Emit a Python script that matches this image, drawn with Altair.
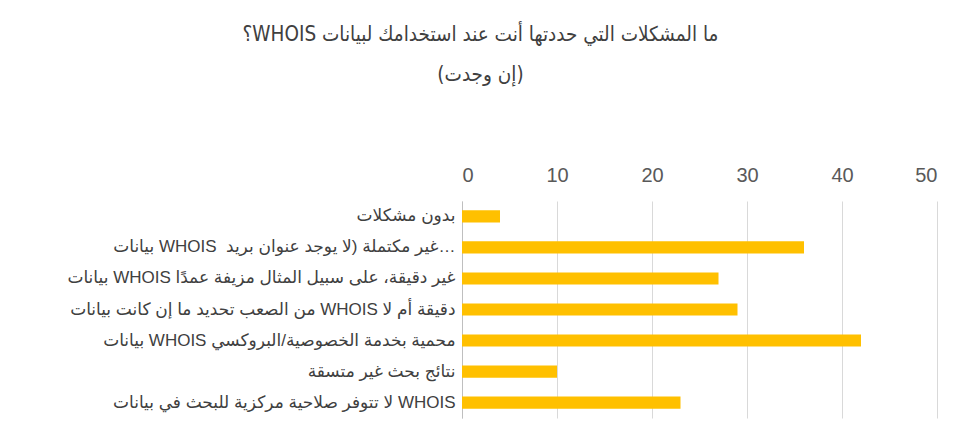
import altair as alt
import pandas as pd

problems = [
    "بدون مشكلات",
    "بيانات WHOIS \u00a0غير مكتملة (لا يوجد عنوان بريد…",
    "بيانات WHOIS غير دقيقة، على سبيل المثال مزيفة عمدًا",
    "من الصعب تحديد ما إن كانت بيانات WHOIS دقيقة أم لا",
    "بيانات WHOIS محمية بخدمة الخصوصية/البروكسي",
    "نتائج بحث غير متسقة",
    "لا تتوفر صلاحية مركزية للبحث في بيانات WHOIS",
]
counts = [4, 36, 27, 29, 42, 10, 23]
tick_values = [0, 10, 20, 30, 40, 50]
title_lines = [
    "\u202bما المشكلات التي حددتها أنت عند استخدامك لبيانات WHOIS؟\u202c",
    "\u202b(إن وجدت)\u202c",
]

df = pd.DataFrame({"problem": problems, "count": counts})

label_font = "Liberation Sans, Arial, DejaVu Sans, sans-serif"
title_font = "DejaVu Sans Condensed, DejaVu Sans, sans-serif"

chart = (
    alt.Chart(df)
    .mark_bar(color="#FFC000")
    .encode(
        x=alt.X(
            "count:Q",
            scale=alt.Scale(domain=[0, 50], nice=False),
            axis=alt.Axis(
                orient="top",
                values=tick_values,
                title=None,
                grid=True,
                gridColor="#d9d9d9",
                gridWidth=1,
                domain=False,
                ticks=False,
                labelFontSize=20,
                labelColor="#595959",
                labelFont=label_font,
                labelPadding=16,
                minExtent=36,
                maxExtent=36,
            ),
        ),
        y=alt.Y(
            "problem:N",
            sort=None,
            scale=alt.Scale(paddingInner=0.61, paddingOuter=0.3),
            axis=alt.Axis(
                title=None,
                domain=True,
                domainColor="#bfbfbf",
                ticks=False,
                labelFontSize=17,
                labelColor="#404040",
                labelFont=label_font,
                labelPadding=7,
                labelLimit=0,
                minExtent=449,
                maxExtent=449,
            ),
        ),
    )
    .properties(
        width=475,
        height=217,
        padding={"top": 16, "left": 5, "right": 5, "bottom": 5},
        title=alt.TitleParams(
            text=title_lines,
            fontSize=20.5,
            lineHeight=40,
            font=title_font,
            fontWeight="normal",
            color="#404040",
            anchor="middle",
            frame="group",
            dx=-219,
            offset=80,
        ),
    )
    .configure_view(strokeWidth=0)
)

chart.save("out.html", embed_options={"renderer": "svg", "actions": False})
